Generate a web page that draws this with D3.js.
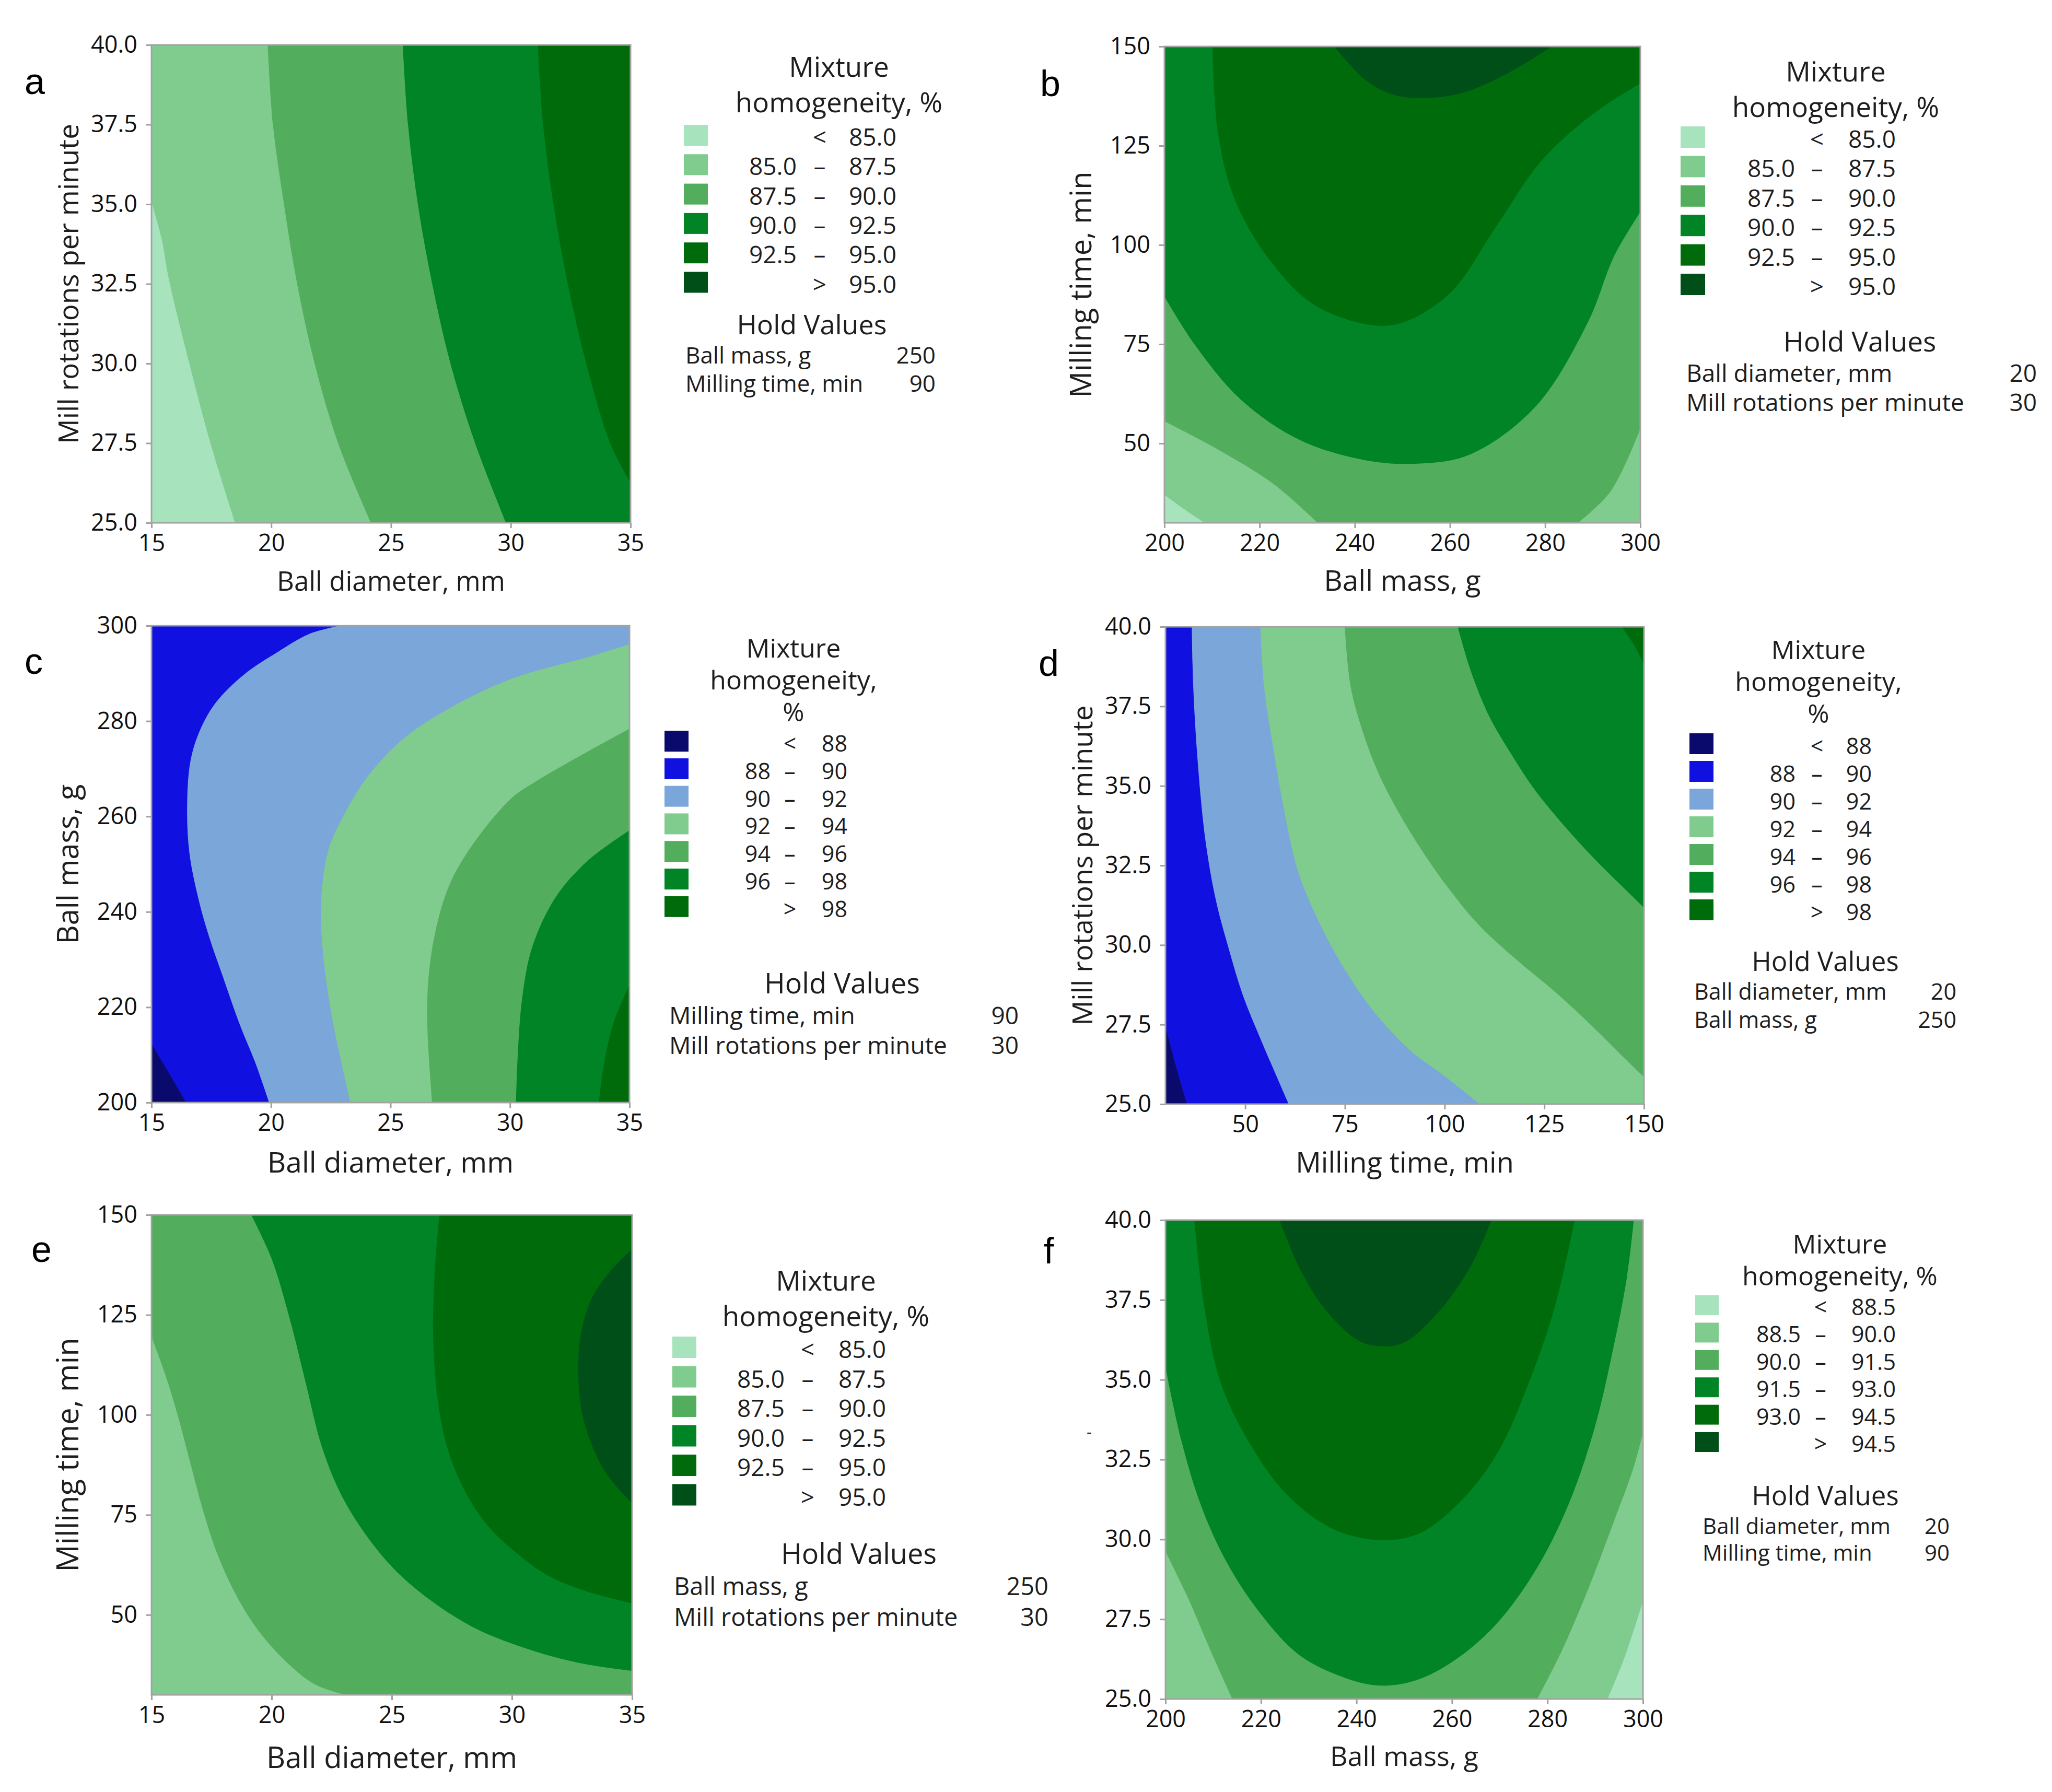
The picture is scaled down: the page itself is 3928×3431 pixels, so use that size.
<!DOCTYPE html>
<html>
<head>
<meta charset="UTF-8">
<title>Mixture homogeneity contour plots</title>
<script src="https://cdn.jsdelivr.net/npm/d3@7/dist/d3.min.js"></script>
<style>
body {
    margin: 0;
    background: #fff;
}

text {
    font-family: 'Open Sans', 'Noto Sans', sans-serif;
    fill: #1e1e1e;
}

.tick line {
    stroke: #a0a0a0;
    stroke-width: 3px;
}

.tick text {
    font-size: 45px;
    fill: #111;
}

.frame {
    fill: none;
    stroke: #a3a3a3;
    stroke-width: 3px;
}

.letter {
    font-family: 'Liberation Sans', Arial, sans-serif;
    font-size: 70px;
    fill: #000;
}
</style>
</head>
<body>
<div class="chart"></div>
<script>

// band colours, lowest band first
const greens = ['#a7e3bc', '#80cb8e', '#52ae5c', '#008426', '#006b0b', '#004e18'];
const blues = ['#0a0a6c', '#1010e0', '#7ba6d9', '#80cb8e', '#52ae5c', '#008426', '#006b0b'];

// legend labels
const greenLow = ['', '85.0', '87.5', '90.0', '92.5', ''];
const greenHigh = ['85.0', '87.5', '90.0', '92.5', '95.0', '95.0'];
const blueLow = ['', '88', '90', '92', '94', '96', ''];
const blueHigh = ['88', '90', '92', '94', '96', '98', '98'];
const fLow = ['', '88.5', '90.0', '91.5', '93.0', ''];
const fHigh = ['88.5', '90.0', '91.5', '93.0', '94.5', '94.5'];

// hold values
const aHold = [['Ball mass, g', '250'], ['Milling time, min', '90']];
const bHold = [['Ball diameter, mm', '20'], ['Mill rotations per minute', '30']];
const cHold = [['Milling time, min', '90'], ['Mill rotations per minute', '30']];
const dHold = [['Ball diameter, mm', '20'], ['Ball mass, g', '250']];
const eHold = [['Ball mass, g', '250'], ['Mill rotations per minute', '30']];
const fHold = [['Ball diameter, mm', '20'], ['Milling time, min', '90']];

// tick values
const diamTicks = [15, 20, 25, 30, 35];
const rpmTicks = [25, 27.5, 30, 32.5, 35, 37.5, 40];
const massTicks = [200, 220, 240, 260, 280, 300];
const timeTicks = [50, 75, 100, 125, 150];

// contour boundaries, [x, y] in data units
// a: diameter x rotations
const a85 = [[15, 35.07], [15.44, 33.86], [15.71, 32.7], [16.58, 30], [17.45, 27.53], [18.49, 25]];
const a875 = [[19.85, 40], [20.07, 37.5], [20.53, 35], [21.08, 32.5], [21.81, 30], [22.79, 27.5], [24.16, 25]];
const a90 = [[25.49, 40], [25.71, 37.5], [26.12, 35], [26.72, 32.5], [27.48, 30], [28.51, 27.5], [29.8, 25]];
const a925 = [[31.13, 40], [31.35, 37.5], [31.78, 35], [32.38, 32.5], [33.15, 30], [34.15, 27.5], [35, 26.26]];

// b: mass x time
const b85 = [[200, 37.04], [204.1, 33.5], [208.4, 30]];
const b875L = [[200, 55.6], [211.8, 48.1], [222.9, 39.8], [232.2, 30]];
const b875R = [[286.9, 30], [293.8, 38], [300, 53.7]];
const b90 = [[200, 87], [206.3, 75], [216, 61.1], [228.4, 50.9], [242.1, 45.8], [253.2, 44.9], [264.2, 47.2],
    [278, 59.3], [289, 80.6], [294.5, 97.2], [300, 108.3]];
const b925 = [[210.1, 150], [211.2, 128.7], [214.6, 112], [221.5, 97.2], [231.1, 85.2], [243.5, 79.8], [250.4, 80.6],
    [260.1, 88], [269.7, 104.6], [279.3, 121.3], [290.4, 133.3], [300, 140.7]];
const b95 = [[235.7, 150], [242.1, 141.7], [247.7, 138], [254.5, 137], [262.8, 138.4], [272.5, 143.5], [281.4, 150]];

// c: diameter x mass
const c88 = [[15, 212.3], [15.75, 206], [16.45, 200]];
const c90 = [[22.88, 300], [21.61, 298.3], [20.25, 294.4], [18.88, 289.8], [17.71, 284], [17.03, 278.1], [16.63, 271.6],
    [16.49, 261.9], [16.59, 252.2], [16.98, 242.4], [17.42, 234.6], [18, 226.2], [18.69, 216.4], [19.37, 208], [19.92, 200]];
const c92 = [[35, 296.1], [33.25, 293.4], [30.08, 288.9], [27.47, 282.7], [25.51, 276.2], [24.05, 268.4], [23.08, 260.6],
    [22.39, 252.8], [22.1, 242.4], [22.15, 232.7], [22.49, 219.7], [22.88, 209.9], [23.32, 200]];
const c94 = [[35, 278.4], [33.25, 273.6], [31.07, 267.3], [30.08, 263.9], [28.44, 254.1], [27.47, 245.7], [26.88, 235.9],
    [26.59, 226.2], [26.54, 216.4], [26.74, 200]];
const c96 = [[35, 257.1], [33.25, 250.7], [31.89, 242.9], [30.93, 232.6], [30.52, 222.3], [30.33, 210.5], [30.25, 200]];
const c98 = [[35, 224.7], [34.34, 216.8], [33.93, 208.1], [33.72, 200]];

// d: time x rotations
const d88 = [[30, 27.45], [32.6, 26.2], [35.4, 25]];
const d90 = [[36.6, 40], [36.95, 38.14], [38.1, 35.73], [40, 33.3], [42.7, 31.37], [45.8, 29.91], [49.3, 28.46],
    [54, 27], [60.9, 25]];
const d92 = [[53.8, 40], [54.7, 38.14], [57, 36.2], [59.7, 34.27], [63.2, 32.33], [67.9, 30.88], [74, 29.43],
    [81.8, 27.98], [91.1, 26.72], [100.3, 25.85], [108.8, 25]];
const d94 = [[74.97, 40], [76.4, 38.14], [79.5, 36.69], [83.3, 35.43], [88, 34.27], [94.1, 33.01], [101.1, 31.76],
    [108.8, 30.6], [118.1, 29.53], [127.4, 28.56], [137.4, 27.4], [145.2, 26.43], [150, 25.85]];
const d96 = [[103.3, 40], [106.5, 38.63], [111.2, 37.18], [116.6, 36.02], [122.7, 34.86], [129.7, 33.79], [137.4, 32.73],
    [145.2, 31.76], [150, 31.17]];
const d98 = [[144.4, 40], [147.4, 39.45], [150, 38.82]];

// e: diameter x time
const e875 = [[15, 119.5], [15.57, 110.1], [16.09, 99.9], [16.61, 88.1], [17.13, 76.4], [17.78, 64.6], [18.57, 54.4],
    [19.48, 45.8], [20.65, 38], [21.83, 32.5], [23.07, 30]];
const e90 = [[19.15, 150], [20, 139], [20.78, 123.4], [21.43, 107.7], [22.09, 92], [22.87, 80.3], [23.91, 70.1],
    [25.22, 60.7], [26.78, 52.9], [28.48, 46.6], [30.43, 41.9], [32.78, 38], [35, 36]];
const e925 = [[26.98, 150], [26.78, 135.1], [26.72, 119.5], [26.91, 103.8], [27.3, 92], [27.96, 81.9], [28.87, 73.2],
    [30.04, 66.2], [31.48, 59.9], [33.04, 56], [35, 52.9]];
const e95 = [[35, 141.4], [34.09, 135.9], [33.3, 128.9], [32.85, 119.5], [32.76, 110.1], [32.91, 100.7], [33.3, 92.8],
    [33.96, 85], [35, 77.9]];

// f: mass x rotations
const f885 = [[292.58, 25], [296.02, 26.26], [300, 28.06]];
const f90L = [[200, 29.62], [204.67, 28.18], [209.48, 26.5], [214.01, 25]];
const f90R = [[277.88, 25], [282.97, 26.5], [288.46, 28.42], [293.96, 30.58], [298.08, 32.27], [300, 33.35]];
const f915 = [[200, 35.39], [203.3, 33.11], [207.42, 31.07], [212.91, 29.26], [219.78, 27.7], [228.02, 26.38], [237.64, 25.66],
    [245.19, 25.42], [252.75, 25.6], [260.99, 26.26], [269.23, 27.34], [277.47, 29.02], [284.34, 31.07], [289.84, 33.47],
    [293.96, 36.11], [296.7, 38.27], [298.08, 40]];
const f93 = [[206.04, 40], [208.1, 37.31], [211.54, 34.91], [217.72, 32.99], [225.27, 31.43], [234.89, 30.34], [244.51, 29.98],
    [252.75, 30.16], [260.99, 31.07], [269.23, 32.63], [276.1, 34.91], [281.59, 37.31], [285.71, 40]];
const f945 = [[223.9, 40], [228.02, 38.51], [233.52, 37.19], [240.38, 36.23], [245.19, 36.05], [250, 36.17], [256.87, 37.07],
    [263.74, 38.51], [268.27, 40]];


let width = 3928, height = 3431;

let svg = d3.select('.chart').append('svg')
    .attr('width', width)
    .attr('height', height);

svg.append('rect')
    .attr('width', width)
    .attr('height', height)
    .attr('fill', '#fff');

let defs = svg.append('defs');

const panels = [
    {
        id: 'a', box: [290, 86, 1207, 1001], xDom: [15, 35], yDom: [25, 40],
        xTicks: diamTicks, yTicks: rpmTicks, yFmt: '.1f',
        xTitle: 'Ball diameter, mm', xSize: 51, xBase: 1131,
        yTitle: 'Mill rotations per minute', ySize: 53,
        colors: greens, base: 0,
        regions: [[a85, 'br', 'tr', 'tl'], [a875, 'br', 'tr'], [a90, 'br', 'tr'], [a925, 'tr']],
        letter: [47, 180],
        legend: {
            title: ['Mixture', 'homogeneity, %'], tx: 1606, ty: 147, tdy: 68, tSize: 53,
            sx: 1309, sy: 239, sdy: 56.3, sw: 46, sh: 40,
            low: greenLow, high: greenHigh, lowR: 1525, dash: 1569, highR: 1716, lSize: 46,
            hx: 1554, hy: 640, hSize: 52, hold: aHold, rx: 1312, rr: 1791, ry: 696, rdy: 54, rSize: 44
        }
    },
    {
        id: 'b', box: [2229, 89, 3140, 1001], xDom: [200, 300], yDom: [30, 150],
        xTicks: massTicks, yTicks: timeTicks, yFmt: 'd',
        xTitle: 'Ball mass, g', xSize: 55, xBase: 1131,
        yTitle: 'Milling time, min', ySize: 56,
        colors: greens, base: 0,
        regions: [[b85, 'br', 'tr', 'tl'], [b875L, b875R, 'tr', 'tl'], [b90, 'tr', 'tl'], [b925, 'tr'], [b95]],
        letter: [1991, 184],
        legend: {
            title: ['Mixture', 'homogeneity, %'], tx: 3514, ty: 156, tdy: 68, tSize: 53,
            sx: 3217, sy: 242, sdy: 56.4, sw: 47, sh: 41,
            low: greenLow, high: greenHigh, lowR: 3436, dash: 3478, highR: 3629, lSize: 46,
            hx: 3560, hy: 673, hSize: 53, hold: bHold, rx: 3228, rr: 3899, ry: 731, rdy: 56, rSize: 46
        }
    },
    {
        id: 'c', box: [290, 1198, 1205, 2111], xDom: [15, 35], yDom: [200, 300],
        xTicks: diamTicks, yTicks: massTicks, yFmt: 'd',
        xTitle: 'Ball diameter, mm', xSize: 55, xBase: 2245,
        yTitle: 'Ball mass, g', ySize: 56,
        colors: blues, base: 0,
        regions: [[c88, 'br', 'tr', 'tl'], [c90, 'br', 'tr'], [c92, 'br'], [c94, 'br'], [c96, 'br'], [c98, 'br']],
        letter: [47, 1290],
        legend: {
            title: ['Mixture', 'homogeneity,', '%'], tx: 1519, ty: 1259, tdy: 61, tSize: 50,
            sx: 1272, sy: 1399, sdy: 52.8, sw: 46, sh: 40,
            low: blueLow, high: blueHigh, lowR: 1475, dash: 1512, highR: 1622, lSize: 43,
            hx: 1612, hy: 1902, hSize: 54, hold: cHold, rx: 1281, rr: 1950, ry: 1961, rdy: 57, rSize: 46
        }
    },
    {
        id: 'd', box: [2231, 1200, 3147, 2114], xDom: [30, 150], yDom: [25, 40],
        xTicks: timeTicks, yTicks: rpmTicks, yFmt: '.1f',
        xTitle: 'Milling time, min', xSize: 54, xBase: 2245,
        yTitle: 'Mill rotations per minute', ySize: 53,
        colors: blues, base: 0,
        regions: [[d88, 'br', 'tr', 'tl'], [d90, 'br', 'tr'], [d92, 'br', 'tr'], [d94, 'tr'], [d96, 'tr'], [d98, 'tr']],
        letter: [1988, 1294],
        legend: {
            title: ['Mixture', 'homogeneity,', '%'], tx: 3481, ty: 1262, tdy: 61, tSize: 50,
            sx: 3234, sy: 1404, sdy: 53, sw: 46, sh: 40,
            low: blueLow, high: blueHigh, lowR: 3437, dash: 3478, highR: 3583, lSize: 43,
            hx: 3494, hy: 1859, hSize: 51, hold: dHold, rx: 3243, rr: 3745, ry: 1914, rdy: 54, rSize: 43
        }
    },
    {
        id: 'e', box: [290, 2326, 1210, 3245], xDom: [15, 35], yDom: [30, 150],
        xTicks: diamTicks, yTicks: timeTicks, yFmt: 'd',
        xTitle: 'Ball diameter, mm', xSize: 56, xBase: 3385,
        yTitle: 'Milling time, min', ySize: 58,
        colors: greens, base: 1,
        regions: [[e875, 'br', 'tr', 'tl'], [e90, 'tr'], [e925, 'tr'], [e95]],
        letter: [60, 2416],
        legend: {
            title: ['Mixture', 'homogeneity, %'], tx: 1581, ty: 2471, tdy: 68, tSize: 53,
            sx: 1287, sy: 2559, sdy: 56.5, sw: 46, sh: 41,
            low: greenLow, high: greenHigh, lowR: 1502, dash: 1546, highR: 1696, lSize: 46,
            hx: 1644, hy: 2994, hSize: 54, hold: eHold, rx: 1290, rr: 2007, ry: 3054, rdy: 59, rSize: 47
        }
    },
    {
        id: 'f', box: [2231, 2336, 3145, 3253], xDom: [200, 300], yDom: [25, 40],
        xTicks: massTicks, yTicks: rpmTicks, yFmt: '.1f',
        xTitle: 'Ball mass, g', xSize: 52, xBase: 3381,
        yTitle: '', ySize: 40,
        colors: greens, base: 0,
        regions: [['bl', f885, 'tr', 'tl'], [f90L, f90R, 'tr', 'tl'], [f915, 'tl'], [f93], [f945]],
        letter: [1998, 2419],
        legend: {
            title: ['Mixture', 'homogeneity, %'], tx: 3522, ty: 2400, tdy: 61, tSize: 50,
            sx: 3245, sy: 2480, sdy: 52.4, sw: 45, sh: 38,
            low: fLow, high: fHigh, lowR: 3447, dash: 3485, highR: 3629, lSize: 43,
            hx: 3494, hy: 2882, hSize: 51, hold: fHold, rx: 3259, rr: 3732, ry: 2937, rdy: 51, rSize: 42
        }
    }
];

// builds one filled "value above level" region from boundary curves and plot corners
function regionPath(spec, p, x, y) {
    const corners = {
        tl: [p.xDom[0], p.yDom[1]], tr: [p.xDom[1], p.yDom[1]],
        bl: [p.xDom[0], p.yDom[0]], br: [p.xDom[1], p.yDom[0]]
    };
    let line = d3.line()
        .x(function (d) { return x(d[0]); })
        .y(function (d) { return y(d[1]); })
        .curve(d3.curveCatmullRom.alpha(0.5));
    let d = '';
    spec.forEach(function (s) {
        if (typeof s === 'string') {
            let c = corners[s];
            d += (d ? 'L' : 'M') + x(c[0]) + ',' + y(c[1]);
        } else {
            let piece = line(s);
            if (d) piece = 'L' + piece.slice(1);
            d += piece;
        }
    });
    return d + 'Z';
}

function drawPanel(p) {
    let [x0, y0, x1, y1] = p.box;
    let x = d3.scaleLinear().domain(p.xDom).range([x0, x1]);
    let y = d3.scaleLinear().domain(p.yDom).range([y1, y0]);

    let g = svg.append('g').attr('class', 'panel-' + p.id);

    defs.append('clipPath')
        .attr('id', 'clip-' + p.id)
        .append('rect')
        .attr('x', x0).attr('y', y0)
        .attr('width', x1 - x0).attr('height', y1 - y0);

    let plot = g.append('g').attr('clip-path', 'url(#clip-' + p.id + ')');

    plot.append('rect')
        .attr('x', x0).attr('y', y0)
        .attr('width', x1 - x0).attr('height', y1 - y0)
        .attr('fill', p.colors[p.base]);

    plot.selectAll('path.band')
        .data(p.regions)
        .join('path')
        .attr('class', 'band')
        .attr('d', function (r) { return regionPath(r, p, x, y); })
        .attr('fill', function (r, i) { return p.colors[p.base + 1 + i]; });

    g.append('rect')
        .attr('class', 'frame')
        .attr('x', x0).attr('y', y0)
        .attr('width', x1 - x0).attr('height', y1 - y0);

    let xAxis = d3.axisBottom(x)
        .tickValues(p.xTicks)
        .tickSize(10)
        .tickPadding(12)
        .tickFormat(d3.format('d'));

    let yAxis = d3.axisLeft(y)
        .tickValues(p.yTicks)
        .tickSize(10)
        .tickPadding(17)
        .tickFormat(d3.format(p.yFmt));

    g.append('g')
        .attr('transform', 'translate(0,' + y1 + ')')
        .call(xAxis)
        .call(function (a) { a.select('.domain').remove(); });

    g.append('g')
        .attr('transform', 'translate(' + x0 + ',0)')
        .call(yAxis)
        .call(function (a) { a.select('.domain').remove(); });

    g.selectAll('.tick text').attr('font-family', null);

    // axis titles
    g.append('text')
        .attr('x', (x0 + x1) / 2)
        .attr('y', p.xBase)
        .attr('text-anchor', 'middle')
        .style('font-size', p.xSize + 'px')
        .text(p.xTitle);

    if (p.yTitle) {
        g.append('text')
            .attr('transform', 'translate(' + (x0 - 140) + ',' + (y0 + y1) / 2 + ') rotate(-90)')
            .attr('text-anchor', 'middle')
            .style('font-size', p.ySize + 'px')
            .text(p.yTitle);
    }

    g.append('text')
        .attr('class', 'letter')
        .attr('x', p.letter[0])
        .attr('y', p.letter[1])
        .text(p.id);

    drawLegend(g, p);
}

function drawLegend(g, p) {
    let L = p.legend;
    let last = p.colors.length - 1;

    g.selectAll('rect.swatch')
        .data(p.colors)
        .join('rect')
        .attr('class', 'swatch')
        .attr('x', L.sx)
        .attr('y', function (d, i) { return L.sy + i * L.sdy; })
        .attr('width', L.sw)
        .attr('height', L.sh)
        .attr('fill', function (d) { return d; });

    // every word of the legend is a tspan of one text block
    let items = [];
    L.title.forEach(function (t, i) {
        items.push({t: t, x: L.tx, y: L.ty + i * L.tdy, a: 'middle', s: L.tSize});
    });
    p.colors.forEach(function (c, i) {
        let yy = L.sy + i * L.sdy + L.sh;
        if (L.low[i]) items.push({t: L.low[i], x: L.lowR, y: yy, a: 'end', s: L.lSize});
        items.push({t: i === 0 ? '<' : (i === last ? '>' : '–'), x: L.dash, y: yy, a: 'middle', s: L.lSize});
        items.push({t: L.high[i], x: L.highR, y: yy, a: 'end', s: L.lSize});
    });
    items.push({t: 'Hold Values', x: L.hx, y: L.hy, a: 'middle', s: L.hSize});
    L.hold.forEach(function (h, i) {
        let yy = L.ry + i * L.rdy;
        items.push({t: h[0], x: L.rx, y: yy, a: 'start', s: L.rSize});
        items.push({t: h[1], x: L.rr, y: yy, a: 'end', s: L.rSize});
    });

    g.append('text')
        .attr('class', 'legend-text')
        .selectAll('tspan')
        .data(items)
        .join('tspan')
        .attr('x', function (d) { return d.x; })
        .attr('y', function (d) { return d.y; })
        .attr('text-anchor', function (d) { return d.a; })
        .style('font-size', function (d) { return d.s + 'px'; })
        .text(function (d) { return d.t; });
}

panels.forEach(drawPanel);

// stray mark left of panel f
svg.append('text')
    .attr('x', 2080)
    .attr('y', 2752)
    .style('font-size', '30px')
    .text('-');

</script>
</body>
</html>
